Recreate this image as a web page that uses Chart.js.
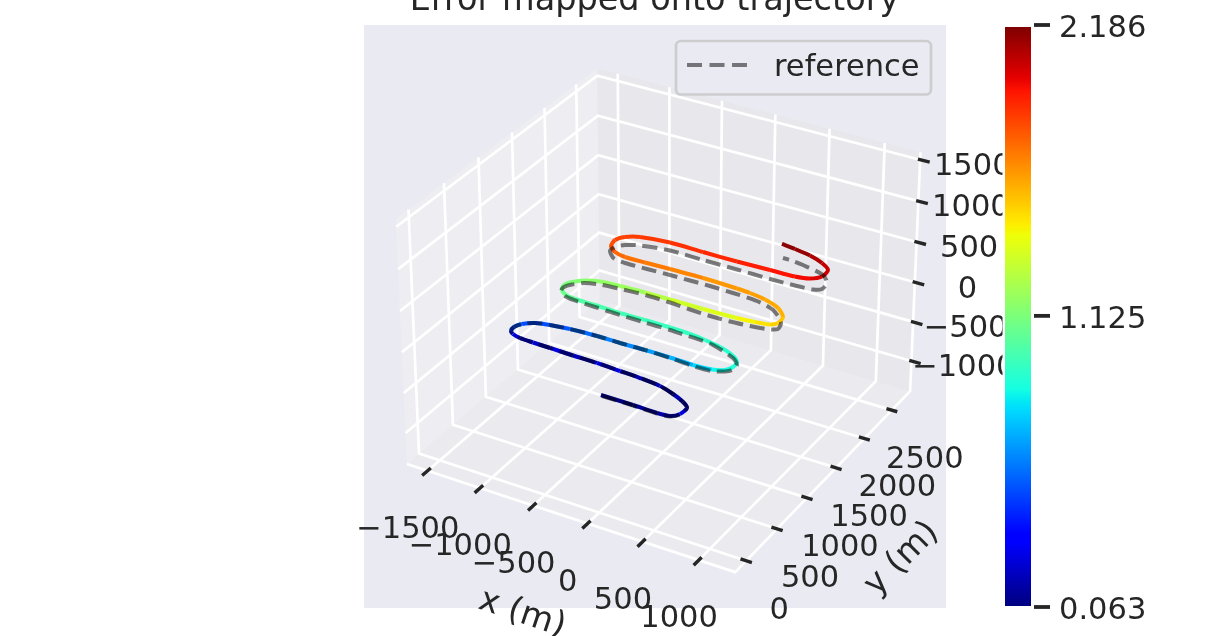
<!DOCTYPE html>
<html><head><meta charset="utf-8">
<style>html,body{margin:0;padding:0;background:#fff;overflow:hidden}canvas{display:block}</style>
<script src="https://cdn.jsdelivr.net/npm/chart.js@4"></script></head>
<body><canvas id="c" width="1232" height="636"></canvas>
<script>
// ---- data (metres, error in m) ----
const xTicks=[-1500,-1000,-500,0,500,1000];
const yTicks=[0,500,1000,1500,2000,2500];
const zTicks=[1500,1000,500,0,-500,-1000];
const colorbarTicks=[2.186,1.125,0.063];
const estX=[-11,277,495,602,654,658,589,464,318,124,-64,-282,-504,-721,-882,-1008,-1090,-1128,-1141,-1110,-1029,-908,-737,-494,-280,-54,174,386,548,640,673,664,578,437,281,132,-56,-288,-519,-759,-949,-1046,-1116,-1145,-1113,-1034,-919,-740,-510,-277,30,336,492,614,659,649,547,391,235,108,-216,-525,-758,-948,-1063,-1144,-1167,-1121,-1012,-747,-429,-107,197,426,548,618,611,514,370,210,76];
const estY=[65,64,57,70,133,234,294,356,407,431,443,456,458,465,469,476,500,532,596,668,733,767,793,808,807,814,814,806,822,866,936,1018,1091,1150,1184,1205,1213,1214,1209,1217,1218,1237,1289,1367,1441,1515,1563,1581,1592,1596,1598,1610,1628,1653,1706,1809,1914,1981,2012,2023,2034,2027,2017,2014,2045,2115,2220,2306,2369,2413,2410,2412,2424,2432,2465,2543,2663,2741,2803,2837,2858];
const errorValues=[0.063,0.105,0.127,0.169,0.233,0.169,0.148,0.127,0.148,0.148,0.233,0.169,0.233,0.190,0.254,0.212,0.360,0.445,0.509,0.488,0.488,0.509,0.551,0.594,0.615,0.657,0.700,0.785,0.849,0.870,0.891,0.902,0.912,0.923,0.933,0.944,0.955,0.976,0.997,1.018,1.050,1.082,1.103,1.125,1.146,1.167,1.188,1.209,1.273,1.337,1.379,1.443,1.485,1.528,1.549,1.592,1.613,1.634,1.645,1.655,1.698,1.719,1.740,1.761,1.804,1.825,1.846,1.857,1.868,1.889,1.910,1.931,1.952,1.974,2.016,2.037,2.059,2.101,2.144,2.165,2.186];
const refX=[3,281,498,606,658,658,589,464,318,124,-64,-282,-504,-721,-882,-1008,-1090,-1128,-1141,-1110,-1029,-908,-737,-494,-280,-54,177,394,559,651,688,685,607,374,226,77,-37,-269,-502,-742,-936,-1044,-1115,-1128,-1092,-1013,-894,-689,-471,-253,-57,133,314,487,627,703,672,527,346,115,-103,-289,-476,-689,-897,-1014,-1108,-1106,-1051,-939,-679,-363,-42,268,495,653,713,703,614,394,291,195];
const refY=[57,58,51,63,126,234,294,356,407,431,443,456,458,465,469,476,500,532,596,668,733,767,793,808,807,814,807,793,802,846,893,978,1055,1149,1169,1173,1179,1180,1182,1190,1198,1219,1271,1339,1406,1480,1521,1545,1559,1555,1539,1530,1534,1553,1579,1623,1732,1866,1928,1943,1948,1945,1941,1932,1928,1947,2038,2117,2188,2244,2295,2293,2296,2294,2302,2318,2362,2469,2569,2633,2651,2654];
const flightZ=0;

// ---- view of the 3D box (elev 30, azim -60) ----
const lim={x:[-1700,1320],y:[-175,2840],z:[-1390,1590]};
const box={a:0.5715,c:0.418,dist:10,sx:3289,sy:3340,cx:663,cy:308.5};
const CE=Math.cos(Math.PI/6);
const nV=[CE*0.5,-CE*CE,0.5],uV=[CE,0.5,0],vV=[-0.25,0.5*CE,CE];
function proj(x,y,z){
  const dx=((x-lim.x[0])/(lim.x[1]-lim.x[0])-0.5)*2*box.a;
  const dy=((y-lim.y[0])/(lim.y[1]-lim.y[0])-0.5)*2*box.a;
  const dz=((z-lim.z[0])/(lim.z[1]-lim.z[0])-0.5)*2*box.c;
  const depth=box.dist-(dx*nV[0]+dy*nV[1]+dz*nV[2]);
  return {x:box.cx+box.sx*(dx*uV[0]+dy*uV[1])/depth,
          y:box.cy-box.sy*(dx*vV[0]+dy*vV[1]+dz*vV[2])/depth};
}
const GAP={x:NaN,y:NaN};
const [x0,x1]=lim.x,[y0,y1]=lim.y,[z0,z1]=lim.z;

// matplotlib's jet colormap
function ramp(pts,f){
  for(let i=1;i<pts.length;i++){ if(f<=pts[i][0]){const [a,b]=[pts[i-1],pts[i]];return b[0]===a[0]?b[1]:a[1]+(b[1]-a[1])*(f-a[0])/(b[0]-a[0]);} }
  return pts[pts.length-1][1];
}
const JR=[[0,0],[.35,0],[.66,1],[.89,1],[1,.5]],JG=[[0,0],[.125,0],[.375,1],[.64,1],[.91,0],[1,0]],JB=[[0,.5],[.11,1],[.34,1],[.65,0],[1,0]];
function jet(f){
  f=Math.max(0,Math.min(1,f));
  return `rgb(${Math.round(255*ramp(JR,f))},${Math.round(255*ramp(JG,f))},${Math.round(255*ramp(JB,f))})`;
}
const eMin=colorbarTicks[2],eMax=colorbarTicks[0];

function poly(pts){return pts.map(p=>proj(p[0],p[1],p[2]));}
const paneX=poly([[x0,y0,z0],[x0,y1,z0],[x0,y1,z1],[x0,y0,z1],[x0,y0,z0]]);
const paneY=poly([[x0,y1,z0],[x1,y1,z0],[x1,y1,z1],[x0,y1,z1],[x0,y1,z0]]);
const paneZ=poly([[x0,y0,z0],[x1,y0,z0],[x1,y1,z0],[x0,y1,z0],[x0,y0,z0]]);
const grid=[];
xTicks.forEach(t=>grid.push(proj(t,y0,z0),proj(t,y1,z0),proj(t,y1,z1),GAP));
yTicks.forEach(t=>grid.push(proj(x1,t,z0),proj(x0,t,z0),proj(x0,t,z1),GAP));
zTicks.forEach(t=>grid.push(proj(x0,y0,t),proj(x0,y1,t),proj(x1,y1,t),GAP));
const edges=poly([[x0,y0,z0],[x1,y0,z0],[x1,y1,z0],[x1,y1,z1]]);
const ticks=[];
xTicks.forEach(t=>ticks.push(proj(t,y0+45,z0),proj(t,y0-80,z0),GAP));
yTicks.forEach(t=>ticks.push(proj(x1-50,t,z0),proj(x1+50,t,z0),GAP));
zTicks.forEach(t=>ticks.push(proj(x1-20,y1,t),proj(x1+85,y1,t),GAP));
const estPts=estX.map((x,i)=>proj(x,estY[i],flightZ));
const refPts=refX.map((x,i)=>proj(x,refY[i],flightZ));

const base={showLine:true,pointRadius:0,pointHoverRadius:0,tension:0,spanGaps:false,fill:false};
const layers=[
 {...base,data:paneX,borderWidth:0,fill:'shape',backgroundColor:'rgba(242,242,242,0.5)',borderColor:'rgba(0,0,0,0)'},
 {...base,data:paneY,borderWidth:0,fill:'shape',backgroundColor:'rgba(230,230,230,0.5)',borderColor:'rgba(0,0,0,0)'},
 {...base,data:paneZ,borderWidth:0,fill:'shape',backgroundColor:'rgba(236,236,236,0.5)',borderColor:'rgba(0,0,0,0)'},
 {...base,data:grid,borderColor:'#ffffff',borderWidth:2.7},
 {...base,data:edges,borderColor:'#ffffff',borderWidth:2.7},
 {...base,data:ticks,borderColor:'#262626',borderWidth:3.4},
 {...base,label:'estimate',data:estPts,tension:0.25,borderWidth:4,borderJoinStyle:'round',borderColor:jet(0),
   segment:{borderColor:c=>jet((errorValues[c.p0DataIndex]-eMin)/(eMax-eMin))}},
 {...base,label:'reference',data:refPts,tension:0.25,borderWidth:4,borderColor:'rgba(0,0,0,0.5)',borderDash:[15,6.8]}
];
layers.forEach((d,i)=>d.order=layers.length-i);

const FONT='"DejaVu Sans"',INK='#262626';
const fmt=v=>String(v).replace('-','\u2212');
const bgPlugin={id:'axbg',beforeDatasetsDraw(ch){const g=ch.ctx;g.save();g.fillStyle='#eaeaf2';g.fillRect(364,25,582,583);g.restore();}};
const textPlugin={id:'labels',afterDatasetsDraw(ch){
  const g=ch.ctx;g.save();
  g.fillStyle=INK;g.textBaseline='middle';g.textAlign='center';
  g.font=`30.5px ${FONT}`;
  xTicks.forEach(t=>{const p=proj(t,y0-35,z0);g.fillText(fmt(t),p.x-17.5,p.y+57);});
  yTicks.forEach(t=>{const p=proj(x1,t,z0);g.fillText(fmt(t),p.x+33,p.y+50);});
  zTicks.forEach(t=>{const p=proj(x1+32,y1,t);g.fillText(fmt(t),p.x+49,p.y+6.5);});
  const rot=(s,x,y,deg)=>{g.save();g.translate(x,y);g.rotate(deg*Math.PI/180);g.fillText(s,0,0);g.restore();};
  g.font=`33.5px ${FONT}`;
  rot('x (m)',522,614,18.5);
  rot('y (m)',902,559,-45);
  g.save();g.beginPath();g.rect(1034,200,20,100);g.clip();
  g.textBaseline='alphabetic';rot('z (m)',1017,257,-92);g.restore();
  // title
  g.font=`33.5px ${FONT}`;g.textBaseline='alphabetic';
  g.fillText('Error mapped onto trajectory',654.5,10);
  // colorbar axes sit above the 3D axes
  g.fillStyle='#fff';g.fillRect(1002.5,0,31.5,636);
  const top=27,bot=606,gr=g.createLinearGradient(0,bot,0,top);
  for(let i=0;i<=128;i++)gr.addColorStop(i/128,jet(i/128));
  g.fillStyle=gr;g.fillRect(1005,top,26,bot-top);
  g.fillStyle=INK;g.font=`30.5px ${FONT}`;g.textAlign='left';g.textBaseline='middle';
  colorbarTicks.forEach(t=>{const y=bot+1-(t-eMin)/(eMax-eMin)*(bot+1-25);
    g.fillRect(1034,y-1.9,16,3.8);g.fillText(t.toFixed(3),1059,y+4);});
  // legend
  g.fillStyle='rgba(234,234,242,0.8)';g.strokeStyle='#cdcdd0';g.lineWidth=2.7;
  g.beginPath();g.roundRect(676,41,255,53.5,5);g.fill();g.stroke();
  g.strokeStyle='#757579';g.lineWidth=4.2;g.setLineDash([15,7.5]);
  g.beginPath();g.moveTo(687,65);g.lineTo(748,65);g.stroke();g.setLineDash([]);
  g.fillStyle=INK;g.textAlign='left';g.textBaseline='alphabetic';
  g.fillText('reference',774,76);
  g.restore();
}};
new Chart(document.getElementById('c'),{
  type:'scatter',
  data:{datasets:layers},
  options:{responsive:false,devicePixelRatio:1,animation:false,events:[],
    layout:{padding:0},clip:false,
    plugins:{legend:{display:false},tooltip:{enabled:false},title:{display:false}},
    scales:{x:{type:'linear',display:false,min:0,max:1232},
            y:{type:'linear',display:false,min:0,max:636,reverse:true}}},
  plugins:[bgPlugin,textPlugin]
});
</script></body></html>
